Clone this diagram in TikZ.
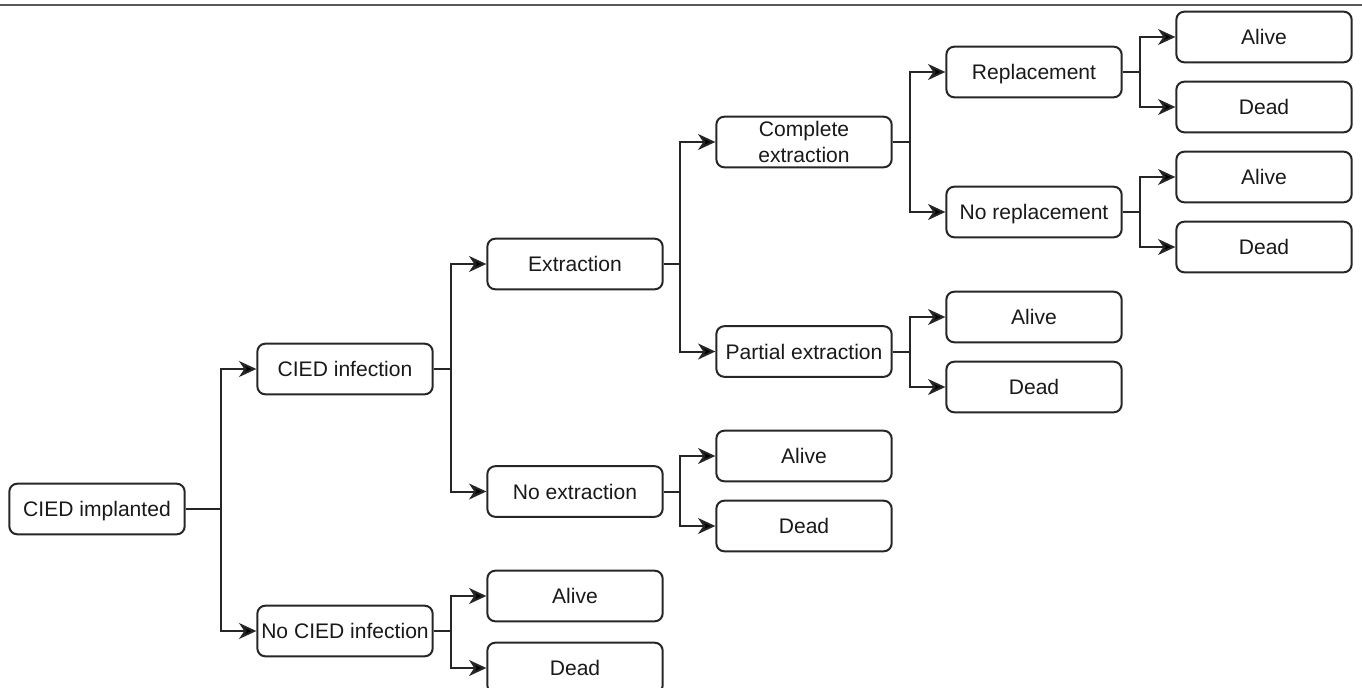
\documentclass[tikz,border=0pt]{standalone}
\usepackage{fontspec}
\setmainfont{Liberation Sans}
\usetikzlibrary{arrows.meta}

\begin{document}
\begin{tikzpicture}[x=0.75pt, y=-0.75pt, line width=1.5pt, >={Stealth[length=13pt,width=12pt,inset=4pt]},
  box base/.style={draw=black!85, text=black!90, rounded corners=6pt, minimum width=131.5pt, minimum height=38pt, inner sep=0pt, align=center, font=\fontsize{15.8}{19.5}\selectfont},
  box node/.style={box base, text height=11.3pt, text depth=0pt},
  elbow/.style={to path={(\tikztostart.east) -| ([xshift=-26.25pt]\tikztotarget.west) -- (\tikztotarget.west)}}]
\useasboundingbox (0,0) rectangle (1362,688);
\clip (0,0) rectangle (1362,688);
\draw[black!65, line width=1.5pt] (0,5) -- (1362,5);
% first level
\node [box node](imp) at (97,509) {CIED implanted};
\node [box node](inf) at (345,369) {CIED infection};
\node [box node](noinf) at (345,631) {No CIED infection};
% second level
\node [box node](ext) at (575,264) {Extraction};
\node [box node](noext) at (575,491.5) {No extraction};
\node [box node](a5) at (575,596) {Alive};
\node [box node](d5) at (575,668) {Dead};
% third level
\node [box base](cext) at (804,142) {Complete\\extraction};
\node [box node](pext) at (804,351.5) {Partial extraction};
\node [box node](a4) at (804,456) {Alive};
\node [box node](d4) at (804,526) {Dead};
% fourth level
\node [box node](rep) at (1034,72) {Replacement};
\node [box node](norep) at (1034,212) {No replacement};
\node [box node](a3) at (1034,317) {Alive};
\node [box node](d3) at (1034,387) {Dead};
% outcomes
\node [box node](a1) at (1264,37) {Alive};
\node [box node](d1) at (1264,107) {Dead};
\node [box node](a2) at (1264,177) {Alive};
\node [box node](d2) at (1264,247) {Dead};
\path [->, draw=black!85]
    (imp) edge [elbow] (inf)
          edge [elbow] (noinf)
    (inf) edge [elbow] (ext)
          edge [elbow] (noext)
    (noinf) edge [elbow] (a5)
          edge [elbow] (d5)
    (ext) edge [elbow] (cext)
          edge [elbow] (pext)
    (noext) edge [elbow] (a4)
          edge [elbow] (d4)
    (cext) edge [elbow] (rep)
          edge [elbow] (norep)
    (pext) edge [elbow] (a3)
          edge [elbow] (d3)
    (rep) edge [elbow] (a1)
          edge [elbow] (d1)
    (norep) edge [elbow] (a2)
          edge [elbow] (d2)
    ;
\end{tikzpicture}
\end{document}
